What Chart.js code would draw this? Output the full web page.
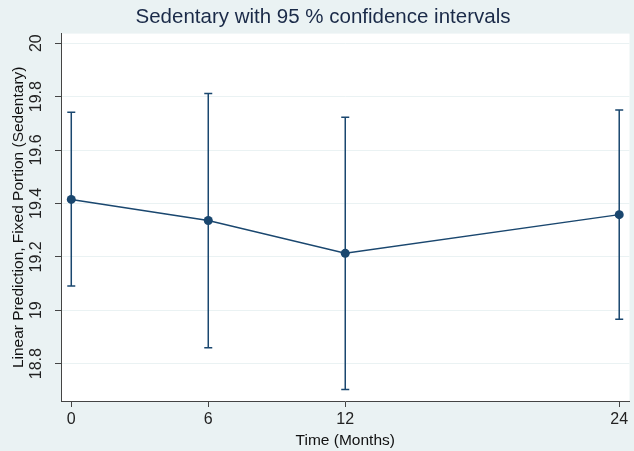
<!DOCTYPE html>
<html>
<head>
<meta charset="utf-8">
<script src="https://cdn.jsdelivr.net/npm/chart.js@4/dist/chart.umd.min.js"></script>
<style>
  html, body { margin: 0; padding: 0; background: #eaf2f3; overflow: hidden; }
  #wrap { width: 634px; height: 451px; position: relative; }
</style>
</head>
<body>
<div id="wrap"><canvas id="myChart"></canvas></div>
<script>
// data
const months = [0, 6, 12, 24];
const predicted = [19.415, 19.336, 19.213, 19.358];
const lowerCI = [19.091, 18.859, 18.703, 18.966];
const upperCI = [19.741, 19.812, 19.723, 19.750];
const xTicks = [0, 6, 12, 24];
const yTicks = [18.8, 19, 19.2, 19.4, 19.6, 19.8, 20];

const navy = '#1a476f';
const fontFamily = '"Liberation Sans", Arial, sans-serif';

// light stata-ish background with white plot region
const backgroundPlugin = {
    id: 'background',
    beforeDraw(chart) {
        const { ctx, chartArea } = chart;
        ctx.save();
        ctx.fillStyle = '#eaf2f3';
        ctx.fillRect(0, 0, chart.width, chart.height);
        ctx.fillStyle = '#ffffff';
        ctx.fillRect(chartArea.left, chartArea.top, chartArea.right - chartArea.left, chartArea.bottom - chartArea.top);
        ctx.restore();
    }
};

// capped error bars for the 95% CI
const errorBarPlugin = {
    id: 'errorBars',
    beforeDatasetsDraw(chart) {
        const { ctx, scales } = chart;
        const capHalf = 4;
        ctx.save();
        ctx.strokeStyle = navy;
        ctx.lineWidth = 1.5;
        months.forEach((m, i) => {
            const x = scales.x.getPixelForValue(m);
            const yLo = scales.y.getPixelForValue(lowerCI[i]);
            const yHi = scales.y.getPixelForValue(upperCI[i]);
            ctx.beginPath();
            ctx.moveTo(x, yLo);
            ctx.lineTo(x, yHi);
            ctx.moveTo(x - capHalf, yLo);
            ctx.lineTo(x + capHalf, yLo);
            ctx.moveTo(x - capHalf, yHi);
            ctx.lineTo(x + capHalf, yHi);
            ctx.stroke();
        });
        ctx.restore();
    }
};

const ctx = document.getElementById('myChart');

new Chart(ctx, {
    type: 'line',
    data: {
        datasets: [{
            label: 'Linear Prediction',
            data: months.map((m, i) => ({ x: m, y: predicted[i] })),
            borderColor: navy,
            backgroundColor: navy,
            borderWidth: 1.5,
            pointRadius: 4.5,
            pointBackgroundColor: navy,
            pointBorderColor: navy,
            pointBorderWidth: 0,
            tension: 0,
            fill: false
        }]
    },
    options: {
        responsive: true,
        maintainAspectRatio: false,
        animation: false,
        layout: {
            padding: { left: 14, right: 2, top: 0, bottom: 0 }
        },
        plugins: {
            legend: { display: false },
            tooltip: { enabled: false },
            title: {
                display: true,
                text: 'Sedentary with 95 % confidence intervals',
                color: '#1a2a48',
                font: { family: fontFamily, size: 20.5, weight: 'normal' },
                padding: { top: 5.5, bottom: 3.5 }
            }
        },
        scales: {
            x: {
                type: 'linear',
                min: -0.45,
                max: 24.45,
                afterBuildTicks: axis => { axis.ticks = xTicks.map(v => ({ value: v })); },
                afterFit: axis => { axis.height = 50; },
                grid: {
                    drawOnChartArea: false,
                    drawTicks: true,
                    tickLength: 6,
                    tickColor: '#444444'
                },
                border: { color: '#444444', width: 1 },
                ticks: {
                    color: '#222222',
                    font: { family: fontFamily, size: 16 },
                    padding: 3,
                    maxRotation: 0,
                    callback: v => String(v)
                },
                title: {
                    display: true,
                    text: 'Time (Months)',
                    color: '#111111',
                    font: { family: fontFamily, size: 15.5 },
                    padding: { top: 0, bottom: 0.7 }
                }
            },
            y: {
                type: 'linear',
                min: 18.66,
                max: 20.036,
                afterBuildTicks: axis => { axis.ticks = yTicks.map(v => ({ value: v })); },
                afterFit: axis => { axis.width = 47; },
                grid: {
                    color: '#eaf2f3',
                    lineWidth: 1,
                    drawTicks: true,
                    tickLength: 6,
                    tickColor: '#444444'
                },
                border: { color: '#444444', width: 1 },
                ticks: {
                    color: '#222222',
                    font: { family: fontFamily, size: 16 },
                    padding: 2.5,
                    minRotation: 90,
                    maxRotation: 90,
                    crossAlign: 'center',
                    callback: v => String(v)
                },
                title: {
                    display: true,
                    text: 'Linear Prediction, Fixed Portion (Sedentary)',
                    color: '#111111',
                    font: { family: fontFamily, size: 15.5 },
                    padding: { top: -4.5, bottom: 0 }
                }
            }
        }
    },
    plugins: [backgroundPlugin, errorBarPlugin]
});
</script>
</body>
</html>
